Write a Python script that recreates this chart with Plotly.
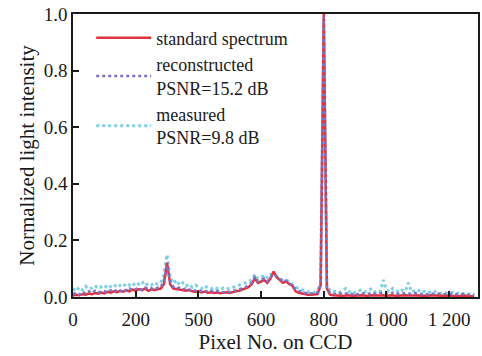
import plotly.graph_objects as go

pixels = list(range(0, 1281, 10))

standard = [
    0.005,0.008,0.006,0.010,0.008,0.012,0.010,0.014,0.012,0.016,
    0.013,0.018,0.015,0.020,0.017,0.022,0.019,0.024,0.020,0.026,
    0.022,0.028,0.024,0.030,0.022,0.027,0.025,0.028,0.030,0.045,
    0.120,0.045,0.030,0.028,0.026,0.024,0.022,0.025,0.020,0.018,
    0.021,0.016,0.019,0.015,0.017,0.014,0.016,0.013,0.015,0.017,
    0.014,0.018,0.020,0.022,0.026,0.030,0.035,0.045,0.065,0.050,
    0.055,0.060,0.050,0.065,0.090,0.070,0.060,0.050,0.055,0.045,
    0.040,0.020,0.015,0.012,0.010,0.008,0.008,0.009,0.010,0.040,
    1.000,0.030,0.008,0.006,0.005,0.006,0.004,0.005,0.006,0.004,
    0.005,0.004,0.006,0.005,0.004,0.006,0.005,0.004,0.005,0.006,
    0.004,0.005,0.006,0.004,0.005,0.004,0.006,0.005,0.004,0.005,
    0.006,0.004,0.005,0.004,0.006,0.005,0.004,0.005,0.004,0.005,
    0.004,0.005,0.004,0.003,0.004,0.005,0.003,0.004,0.003,
]

reconstructed = [
    0.010,0.015,0.008,0.018,0.012,0.020,0.014,0.022,0.016,0.019,
    0.021,0.015,0.024,0.018,0.026,0.020,0.028,0.022,0.030,0.024,
    0.027,0.032,0.025,0.034,0.028,0.031,0.026,0.033,0.035,0.060,
    0.110,0.055,0.036,0.030,0.033,0.027,0.030,0.024,0.028,0.022,
    0.025,0.020,0.023,0.018,0.022,0.017,0.021,0.019,0.016,0.020,
    0.018,0.021,0.024,0.026,0.030,0.034,0.042,0.050,0.070,0.055,
    0.060,0.066,0.055,0.070,0.080,0.072,0.062,0.055,0.058,0.048,
    0.042,0.028,0.022,0.018,0.015,0.013,0.012,0.014,0.016,0.045,
    0.990,0.035,0.014,0.012,0.010,0.013,0.009,0.012,0.014,0.010,
    0.012,0.009,0.015,0.011,0.010,0.014,0.012,0.010,0.013,0.016,
    0.011,0.013,0.015,0.010,0.012,0.011,0.014,0.012,0.010,0.013,
    0.014,0.010,0.012,0.009,0.013,0.011,0.010,0.012,0.009,0.011,
    0.010,0.012,0.009,0.008,0.010,0.011,0.008,0.009,0.007,
]

measured = [
    0.030,0.020,0.035,0.025,0.038,0.028,0.032,0.040,0.030,0.036,
    0.042,0.030,0.038,0.045,0.034,0.040,0.048,0.036,0.044,0.050,
    0.038,0.046,0.055,0.040,0.048,0.042,0.052,0.045,0.050,0.080,
    0.150,0.070,0.048,0.060,0.042,0.050,0.038,0.046,0.035,0.042,
    0.036,0.030,0.040,0.032,0.028,0.035,0.030,0.026,0.032,0.028,
    0.030,0.034,0.036,0.040,0.045,0.050,0.055,0.060,0.080,0.065,
    0.070,0.078,0.068,0.080,0.075,0.072,0.065,0.060,0.062,0.052,
    0.045,0.035,0.030,0.025,0.022,0.018,0.020,0.016,0.022,0.050,
    0.980,0.040,0.025,0.018,0.022,0.016,0.024,0.030,0.018,0.022,
    0.015,0.020,0.026,0.018,0.022,0.028,0.016,0.024,0.020,0.060,
    0.025,0.018,0.030,0.022,0.016,0.024,0.020,0.050,0.018,0.022,
    0.026,0.016,0.020,0.014,0.018,0.022,0.015,0.012,0.016,0.014,
    0.012,0.016,0.010,0.014,0.011,0.013,0.009,0.012,0.010,
]

x_tickvals = [0, 200, 400, 600, 800, 1000, 1200]
x_ticktext = ["0", "200", "500", "600", "800", "1 000", "1 200"]
y_tickvals = [0.0, 0.2, 0.4, 0.6, 0.8, 1.0]

FONT = "Liberation Serif"
INK = "#1a1a1a"

fig = go.Figure()
fig.add_trace(go.Scatter(x=pixels, y=measured, mode="lines",
                         name="measured<br>PSNR=9.8 dB", legendrank=3,
                         line=dict(color="#7fcfe6", width=3, dash="dot")))
fig.add_trace(go.Scatter(x=pixels, y=standard, mode="lines",
                         name="standard spectrum", legendrank=1,
                         line=dict(color="#e3313f", width=2.5)))
fig.add_trace(go.Scatter(x=pixels, y=reconstructed, mode="lines",
                         name="reconstructed<br>PSNR=15.2 dB", legendrank=2,
                         line=dict(color="#7a73c4", width=2.5, dash="dot")))

fig.update_layout(
    width=482, height=356,
    margin=dict(l=73, r=2, t=14, b=59),
    paper_bgcolor="white", plot_bgcolor="white",
    font=dict(family=FONT, size=19, color=INK),
    showlegend=True,
    legend=dict(x=0.045, y=0.98, xanchor="left", yanchor="top",
                bgcolor="rgba(0,0,0,0)", itemwidth=55,
                font=dict(family=FONT, size=18, color=INK),
                tracegroupgap=0, traceorder="normal"),
)
fig.update_xaxes(range=[0, 1292], tickvals=x_tickvals, ticktext=x_ticktext,
                 ticks="inside", ticklen=6, tickcolor=INK, tickwidth=1.5,
                 showline=True, linecolor=INK, linewidth=1.5, mirror=True,
                 showgrid=False, zeroline=False, ticklabelstandoff=4,
                 tickfont=dict(family=FONT, size=19, color=INK),
                 title=dict(text="Pixel No. on CCD", standoff=3,
                            font=dict(family=FONT, size=21, color=INK)))
fig.update_yaxes(range=[0, 1.0], tickvals=y_tickvals, tickformat=".1f",
                 ticks="inside", ticklen=6, tickcolor=INK, tickwidth=1.5,
                 showline=True, linecolor=INK, linewidth=1.5, mirror=True,
                 showgrid=False, zeroline=False,
                 tickfont=dict(family=FONT, size=19, color=INK),
                 title=dict(text="Normalized light intensity", standoff=3,
                            font=dict(family=FONT, size=21, color=INK)))

fig.write_html("out.html")
